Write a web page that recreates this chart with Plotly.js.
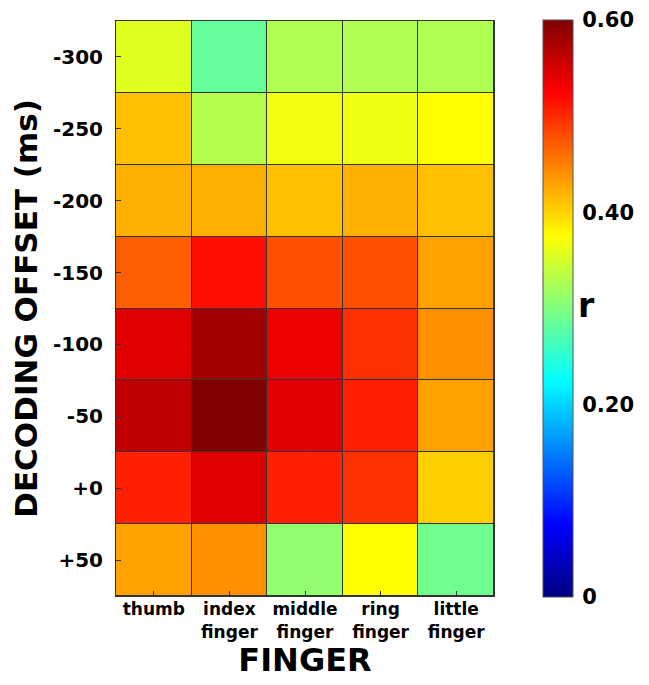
<!DOCTYPE html>
<html>
<head>
<script src="https://cdn.plot.ly/plotly-3.0.1.min.js"></script>
<style>body{margin:0;background:#fff}</style>
</head>
<body>
<div id="myDiv" style="width:649px;height:685px"></div>
<script>
var fingers = ['thumb', 'index<br>finger', 'middle<br>finger', 'ring<br>finger', 'little<br>finger'];
var offsets = ['-300', '-250', '-200', '-150', '-100', '-50', '+0', '+50'];

// r values, one row per offset (thumb, index, middle, ring, little)
var r300 = [0.357, 0.284, 0.328, 0.328, 0.328];
var r250 = [0.412, 0.330, 0.366, 0.365, 0.375];
var r200 = [0.422, 0.422, 0.412, 0.422, 0.412];
var r150 = [0.469, 0.516, 0.478, 0.478, 0.430];
var r100 = [0.543, 0.580, 0.536, 0.497, 0.440];
var r50 = [0.562, 0.600, 0.543, 0.506, 0.430];
var r0 = [0.506, 0.543, 0.506, 0.497, 0.403];
var rp50 = [0.430, 0.440, 0.310, 0.375, 0.291];

var jet = [
  [0, 'rgb(0,0,128)'],
  [0.125, 'rgb(0,0,255)'],
  [0.375, 'rgb(0,255,255)'],
  [0.625, 'rgb(255,255,0)'],
  [0.875, 'rgb(255,0,0)'],
  [1, 'rgb(128,0,0)']
];

var bold = {family: 'DejaVu Sans', weight: 'bold', color: '#000'};

var trace = {
  type: 'heatmap',
  x: fingers,
  y: offsets,
  z: [r300, r250, r200, r150, r100, r50, r0, rp50],
  zmin: 0,
  zmax: 0.6,
  colorscale: jet,
  xgap: 1,
  ygap: 1,
  hoverongaps: false,
  colorbar: {
    x: 1.1296,
    xanchor: 'left',
    xpad: 0,
    ypad: 0,
    thickness: 30,
    len: 1.003,
    y: 0.5,
    outlinewidth: 1,
    outlinecolor: '#555',
    ticks: 'outside',
    ticklen: 5,
    tickcolor: 'rgba(0,0,0,0)',
    tickvals: [0, 0.2, 0.4, 0.6],
    ticktext: ['0', '0.20', '0.40', '0.60'],
    tickfont: Object.assign({size: 21}, bold)
  }
};

var layout = {
  width: 649,
  height: 685,
  margin: {l: 116, r: 155, t: 21, b: 89, autoexpand: false},
  paper_bgcolor: '#fff',
  plot_bgcolor: '#333',
  xaxis: {
    type: 'category',
    ticks: 'inside',
    ticklen: 5,
    tickcolor: '#333',
    showline: true,
    linecolor: '#333',
    mirror: true,
    tickfont: Object.assign({size: 17}, bold),
    ticklabelstandoff: -2,
    title: {text: 'FINGER', font: Object.assign({size: 32}, bold), standoff: 0}
  },
  yaxis: {
    type: 'category',
    autorange: 'reversed',
    ticks: 'inside',
    ticklen: 5,
    tickcolor: '#333',
    showline: true,
    linecolor: '#333',
    mirror: true,
    tickfont: Object.assign({size: 20}, bold),
    ticklabelstandoff: 8,
    title: {text: 'DECODING OFFSET (ms)', font: Object.assign({size: 31}, bold), standoff: 6}
  },
  annotations: [{
    text: 'r', xref: 'paper', yref: 'paper', x: 1.272, y: 0.506,
    showarrow: false, font: Object.assign({size: 33}, bold)
  }]
};

Plotly.newPlot('myDiv', [trace], layout, {displayModeBar: false});
</script>
</body>
</html>
